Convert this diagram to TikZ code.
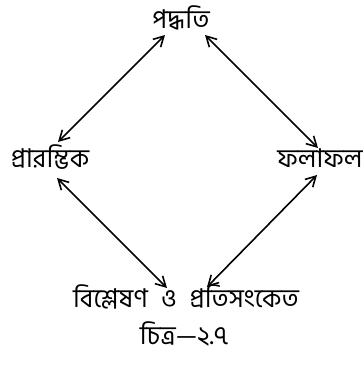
\documentclass[tikz,border=0pt]{standalone}
\usepackage{fontspec}
\newfontfamily\bngfont[Script=Bengali]{Hind Siliguri}
\usetikzlibrary{positioning, arrows.meta}

\begin{document}
\begin{tikzpicture}[x=1bp, y=-1bp,
  label node/.style={font=\bngfont\fontsize{26}{30}\selectfont, inner sep=0pt, anchor=base},
  link/.style={{Straight Barb[length=10bp,width=11bp]}-{Straight Barb[length=10bp,width=11bp]}, line width=1.6bp}]
\useasboundingbox (0,0) rectangle (363,365);

\node[label node] (method) at (181,28) {পদ্ধতি};
\node[label node] (start) at (50,167) {প্রারম্ভিক};
\node[label node] (result) at (320,167) {ফলাফল};
\node[label node] (analysis) at (186,307) {বিশ্লেষণ\hspace{0.5em}ও\hspace{0.5em}প্রতিসংকেত};
\node[label node] (caption) at (184,344) {চিত্র—২.৭};

% arrows between the four stages
\draw[link] ([xshift=-16bp,yshift=-7bp]method.base) -- ([xshift=8bp,yshift=25bp]start.base);
\draw[link] ([xshift=24bp,yshift=-7bp]method.base) -- ([xshift=-2bp,yshift=19bp]result.base);
\draw[link] ([xshift=7bp,yshift=-11bp]start.base) -- ([xshift=-19bp,yshift=19bp]analysis.base);
\draw[link] ([xshift=-3bp,yshift=-8bp]result.base) -- ([xshift=21bp,yshift=20bp]analysis.base);

\end{tikzpicture}
\end{document}
